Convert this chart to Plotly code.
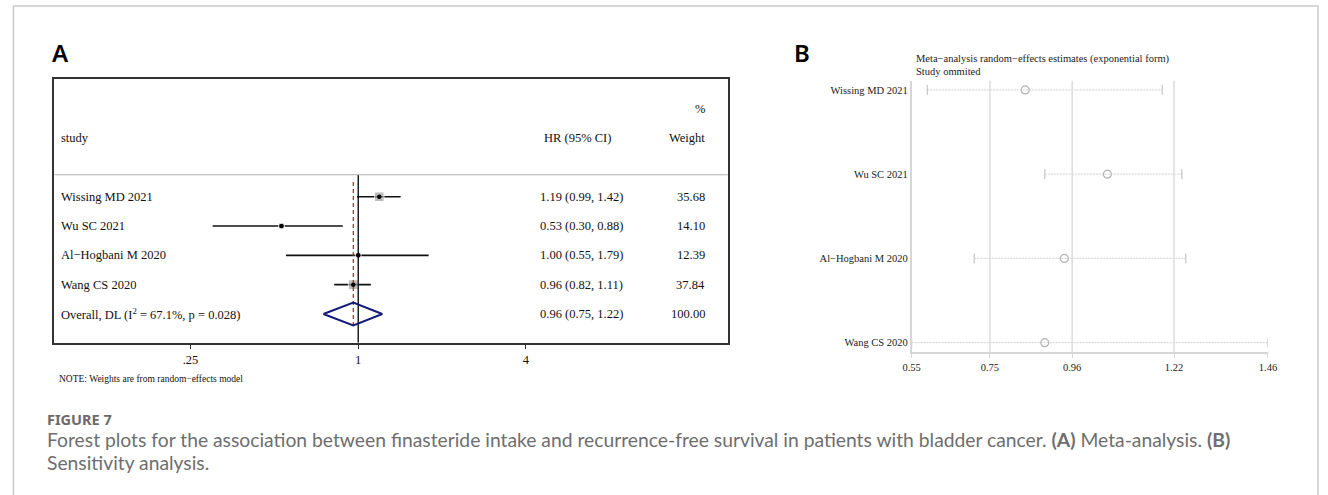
import plotly.graph_objects as go

# ---------------- data ----------------
studies = ["Wissing MD 2021", "Wu SC 2021", "Al\u2212Hogbani M 2020", "Wang CS 2020"]
hr = [1.19, 0.53, 1.00, 0.96]
hr_lo = [0.99, 0.30, 0.55, 0.82]
hr_hi = [1.42, 0.88, 1.79, 1.11]
weights = [35.68, 14.10, 12.39, 37.84]

overall_label = "Overall, DL (I<sup>2</sup> = 67.1%, p = 0.028)"
overall_hr, overall_lo, overall_hi, overall_w = 0.96, 0.75, 1.22, 100.00

forest_ticks = [0.25, 1, 4]
forest_ticktext = [".25", "1", "4"]

# leave-one-out sensitivity estimates (study omitted)
loo_est = [0.84, 1.05, 0.94, 0.89]
loo_lo = [0.59, 0.89, 0.71, 0.55]
loo_hi = [1.19, 1.24, 1.25, 1.46]
loo_ticks = [0.55, 0.75, 0.96, 1.22, 1.46]
loo_grid = [0.75, 0.96, 1.22]

# ---------------- page geometry ----------------
W, H = 1328, 495
SERIF = "Liberation Serif"


def px(x):
    return x / W


def py(y):
    return 1 - y / H


fig = go.Figure()

# ---------------- panel A: forest plot ----------------
n = len(studies)
rows = list(range(n))
overall_row = n

# confidence interval lines
ci_x, ci_y = [], []
for i in rows:
    ci_x += [hr_lo[i], hr_hi[i], None]
    ci_y += [i, i, None]
fig.add_trace(go.Scatter(x=ci_x, y=ci_y, mode="lines", xaxis="x", yaxis="y",
                         line=dict(color="#111111", width=1.6), hoverinfo="skip"))

# weight boxes
fig.add_trace(go.Scatter(x=hr, y=rows, mode="markers", xaxis="x", yaxis="y",
                         marker=dict(symbol="square", color="#a3a3a3",
                                     size=[1.6 * w ** 0.5 for w in weights]),
                         hoverinfo="skip"))

# null line
fig.add_trace(go.Scatter(x=[1, 1], y=[-0.75, 4.98], mode="lines", xaxis="x", yaxis="y",
                         line=dict(color="#111111", width=1.4), hoverinfo="skip"))

# overall estimate reference line
fig.add_trace(go.Scatter(x=[overall_hr, overall_hr], y=[-0.5, 4.45], mode="lines",
                         xaxis="x", yaxis="y",
                         line=dict(color="#9c2a2a", width=1.2, dash="4px,3px"),
                         hoverinfo="skip"))

# point estimates
fig.add_trace(go.Scatter(x=hr, y=rows, mode="markers", xaxis="x", yaxis="y",
                         marker=dict(symbol="circle", color="#000000", size=4.5),
                         hoverinfo="skip"))

# pooled diamond
dh = 0.39
fig.add_trace(go.Scatter(
    x=[overall_lo, overall_hr, overall_hi, overall_hr, overall_lo],
    y=[overall_row, overall_row - dh, overall_row, overall_row + dh, overall_row],
    mode="lines", xaxis="x", yaxis="y",
    line=dict(color="#141c7a", width=2), hoverinfo="skip"))

# table text
ann = []


def serif_text(x, y, text, anchor, size=12.5, yref="y", color="#111111"):
    ann.append(dict(x=x, y=y, xref="paper", yref=yref, text=text, showarrow=False,
                    xanchor=anchor, yanchor="middle",
                    font=dict(family=SERIF, size=size, color=color)))


serif_text(px(50.5), -2, "study", "left")
serif_text(px(540), -2, "HR (95% CI)", "left")
serif_text(px(708), -2, "Weight", "right")
serif_text(px(708), -3, "%", "right")

for i in rows:
    serif_text(px(50.5), i, studies[i], "left")
    serif_text(px(536), i, f"{hr[i]:.2f} ({hr_lo[i]:.2f}, {hr_hi[i]:.2f})", "left")
    serif_text(px(708), i, f"{weights[i]:.2f}", "right")

serif_text(px(50.5), overall_row, overall_label, "left")
serif_text(px(536), overall_row,
           f"{overall_hr:.2f} ({overall_lo:.2f}, {overall_hi:.2f})", "left")
serif_text(px(708), overall_row, f"{overall_w:.2f}", "right")

serif_text(px(49), py(379), "NOTE: Weights are from random\u2212effects model", "left",
           size=9.5, yref="paper")

# ---------------- panel B: leave-one-out ----------------
loo_rows = list(range(len(studies)))
seg_x, seg_y = [], []
for i in loo_rows:
    seg_x += [loo_lo[i], loo_hi[i], None]
    seg_y += [i, i, None]
fig.add_trace(go.Scatter(x=seg_x, y=seg_y, mode="lines", xaxis="x2", yaxis="y2",
                         line=dict(color="#d9d9d9", width=1.2, dash="2px,1px"),
                         hoverinfo="skip"))
fig.add_trace(go.Scatter(x=loo_lo + loo_hi, y=loo_rows + loo_rows, mode="markers",
                         xaxis="x2", yaxis="y2",
                         marker=dict(symbol="line-ns", size=7,
                                     line=dict(color="#c8c8c8", width=1.3)),
                         hoverinfo="skip"))
fig.add_trace(go.Scatter(x=loo_est, y=loo_rows, mode="markers", xaxis="x2", yaxis="y2",
                         marker=dict(symbol="circle-open", size=8,
                                     line=dict(color="#b4b4b4", width=1.2),
                                     color="#b4b4b4"),
                         hoverinfo="skip"))

shapes = []
for g in loo_grid:
    shapes.append(dict(type="line", xref="x2", yref="y2 domain", x0=g, x1=g, y0=0, y1=1,
                       line=dict(color="#dcdcdc", width=1.5), layer="below"))

# header line of the table
shapes.append(dict(type="line", xref="x domain", yref="y", x0=0, x1=1, y0=-0.75, y1=-0.75,
                   line=dict(color="#b0b0b0", width=1.2)))

# page frame
shapes.append(dict(type="rect", xref="paper", yref="paper",
                   x0=px(4.5), x1=px(1327), y0=-0.05, y1=py(6),
                   line=dict(color="#cacaca", width=1.5)))

ann.append(dict(x=px(917.5), y=py(59), xref="paper", yref="paper", showarrow=False,
                xanchor="left", yanchor="middle",
                text="Meta\u2212analysis random\u2212effects estimates (exponential form)",
                font=dict(family=SERIF, size=10.5, color="#222222")))
ann.append(dict(x=px(917.5), y=py(71.5), xref="paper", yref="paper", showarrow=False,
                xanchor="left", yanchor="middle", text="Study ommited",
                font=dict(family=SERIF, size=10.5, color="#222222")))

# panel letters
for letter, cx in (("A", 52), ("B", 804)):
    ann.append(dict(x=px(cx), y=py(52), xref="paper", yref="paper", showarrow=False,
                    xanchor="center", yanchor="middle", text=letter,
                    font=dict(family="Noto Sans", size=24, color="#000000", weight=600)))

# figure caption
ann.append(dict(x=px(36), y=py(419), xref="paper", yref="paper", showarrow=False,
                xanchor="left", yanchor="middle", text="<b>FIGURE 7</b>",
                font=dict(family="Noto Sans", size=14.5, color="#6a6a6a")))
ann.append(dict(x=px(36), y=py(439.5), xref="paper", yref="paper", showarrow=False,
                xanchor="left", yanchor="middle",
                text="Forest plots for the association between finasteride intake and "
                     "recurrence-free survival in patients with bladder cancer. "
                     "<b>(A)</b> Meta-analysis. <b>(B)</b>",
                font=dict(family="Lato", size=19.3, color="#6e6e6e")))
ann.append(dict(x=px(36), y=py(462.5), xref="paper", yref="paper", showarrow=False,
                xanchor="left", yanchor="middle", text="Sensitivity analysis.",
                font=dict(family="Lato", size=19.3, color="#6e6e6e")))

fig.update_layout(
    width=W, height=H, margin=dict(l=0, r=0, t=0, b=0),
    paper_bgcolor="white", plot_bgcolor="rgba(0,0,0,0)",
    showlegend=False, annotations=ann, shapes=shapes,
    xaxis=dict(type="log", range=[-1.091, 1.327], domain=[px(46), px(728.7)],
               showgrid=False, zeroline=False, showline=True, mirror=True,
               linecolor="#333333", linewidth=1.5,
               ticks="outside", ticklen=5, tickwidth=1.2, tickcolor="#333333",
               tickvals=forest_ticks, ticktext=forest_ticktext,
               tickfont=dict(family=SERIF, size=12.5, color="#111111")),
    yaxis=dict(range=[4.98, -4.007], domain=[py(342.7), py(79.3)],
               showgrid=False, zeroline=False, showticklabels=False,
               showline=True, mirror=True, linecolor="#333333", linewidth=1.5),
    xaxis2=dict(range=[0.55, 1.46], domain=[px(915), px(1276.3)], anchor="y2",
                showgrid=False, zeroline=False, showline=True,
                linecolor="#d6d6d6", linewidth=1.5,
                ticks="outside", ticklen=5, tickwidth=1.3, tickcolor="#d6d6d6",
                tickvals=loo_ticks, ticktext=[f"{v:.2f}" for v in loo_ticks],
                tickfont=dict(family=SERIF, size=10.5, color="#222222")),
    yaxis2=dict(range=[3.107, -0.110], domain=[py(351.7), py(80.7)], anchor="x2",
                showgrid=False, zeroline=False, showline=True,
                linecolor="#d6d6d6", linewidth=1.5,
                tickvals=loo_rows, ticktext=studies, ticks="",
                tickfont=dict(family=SERIF, size=10.5, color="#222222")),
)

fig.write_html("out.html")
